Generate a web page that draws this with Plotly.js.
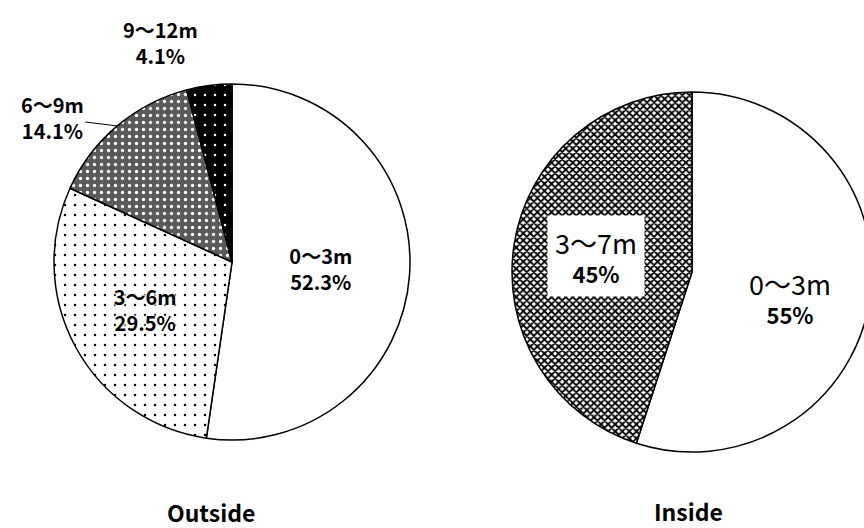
<!DOCTYPE html>
<html>
<head>
<meta charset="utf-8">
<script src="https://cdn.plot.ly/plotly-3.0.1.min.js"></script>
<style>
  html, body { margin: 0; padding: 0; overflow: hidden; background: #fff; }
  #chart { width: 880px; height: 528px; }
</style>
</head>
<body>
<div id="chart"></div>
<script>
// Share of items by distance band, outside and inside
const outsideLabels = ['0～3m', '3～6m', '6～9m', '9～12m'];
const outsideValues = [52.3, 29.5, 14.1, 4.1];
const insideLabels = ['0～3m', '3～7m'];
const insideValues = [55, 45];
const groupTitles = ['Outside', 'Inside'];

const FONT = '"Noto Sans CJK JP", "Noto Sans", sans-serif';
const W = 880, H = 528;
const line = { color: '#000', width: 1.5 };

// Pie geometry in pixels (centre x, centre y from top, radius)
const outsidePie = { cx: 232, cy: 262, r: 178 };
const insidePie = { cx: 692, cy: 272, r: 180 };
function domainOf(p) {
  return {
    x: [(p.cx - p.r) / W, (p.cx + p.r) / W],
    y: [(H - p.cy - p.r) / H, (H - p.cy + p.r) / H]
  };
}

const whiteHalo = '0 0 2px #fff, 0 0 3px #fff, 0 0 4px #fff, 0 0 5px #fff';

const outside = {
  type: 'pie',
  labels: outsideLabels,
  values: outsideValues,
  sort: false,
  direction: 'clockwise',
  rotation: 0,
  domain: domainOf(outsidePie),
  marker: {
    colors: ['#ffffff', '#ffffff', '#5a5a5a', '#000000'],
    line: line,
    pattern: {
      shape: ['', '.', '.', '.'],
      fillmode: 'replace',
      bgcolor: ['#ffffff', '#ffffff', '#5a5a5a', '#000000'],
      fgcolor: ['#000000', '#000000', '#ffffff', '#ffffff'],
      size: [8, 10, 7, 10],
      solidity: [0.1, 0.05, 0.18, 0.05]
    }
  },
  texttemplate: '<b>%{label}<br>%{value:.1f}%</b>',
  textposition: ['inside', 'inside', 'none', 'none'],
  insidetextorientation: 'horizontal',
  insidetextfont: { family: FONT, size: 20, color: '#000', shadow: whiteHalo },
  hoverinfo: 'none',
  showlegend: false
};

const inside = {
  type: 'pie',
  labels: insideLabels,
  values: insideValues,
  sort: false,
  direction: 'clockwise',
  rotation: 0,
  domain: domainOf(insidePie),
  marker: {
    colors: ['#ffffff', '#ffffff'],
    line: line,
    pattern: {
      shape: ['', 'x'],
      fillmode: 'replace',
      bgcolor: ['#ffffff', '#ffffff'],
      fgcolor: ['#000000', '#000000'],
      size: [8, 5],
      solidity: [0.1, 0.6]
    }
  },
  textinfo: 'none',
  hoverinfo: 'none',
  showlegend: false
};

const annotations = [];

// Small outside slices are labelled beside the pie; the 6～9m label gets a leader line
let cum = 0;
const total = outsideValues.reduce((a, b) => a + b, 0);
outsideValues.forEach((v, i) => {
  const mid = (cum + v / 2) / total * 2 * Math.PI;
  cum += v;
  if (i < 2) return;
  const px = outsidePie.cx + outsidePie.r * Math.sin(mid);
  const py = outsidePie.cy - outsidePie.r * Math.cos(mid);
  const text = '<b>' + outsideLabels[i] + '<br>' + v.toFixed(1) + '%</b>';
  if (i === 2) {
    annotations.push({
      xref: 'paper', yref: 'paper', x: px / W, y: (H - py) / H,
      showarrow: true, arrowhead: 0, arrowwidth: 1, arrowcolor: '#000',
      ax: -65, ay: -8, standoff: 0,
      text: text, font: { family: FONT, size: 20, color: '#000' }
    });
  } else {
    annotations.push({
      xref: 'paper', yref: 'paper', x: 160 / W, y: (H - 42) / H,
      xanchor: 'center', yanchor: 'middle', showarrow: false,
      text: text, font: { family: FONT, size: 20, color: '#000' }
    });
  }
});

// Labels of the inside pie; the 3～7m one sits in a white box
const insideAnnPos = [[790, 297], [596, 256]];
insideLabels.forEach((lab, i) => {
  annotations.push({
    xref: 'paper', yref: 'paper',
    x: insideAnnPos[i][0] / W, y: (H - insideAnnPos[i][1]) / H,
    xanchor: 'center', yanchor: 'middle',
    showarrow: false,
    text: '<span style="font-size:27px">' + lab + '</span><br><b>' + insideValues[i] + '%</b>',
    font: { family: FONT, size: 22, color: '#000' },
    bgcolor: i === 1 ? '#ffffff' : 'rgba(0,0,0,0)',
    borderpad: 7
  });
});

annotations.push(
  { xref: 'paper', yref: 'paper', x: 211 / W, y: (H - 512) / H, xanchor: 'center', yanchor: 'middle',
    showarrow: false, text: '<b>' + groupTitles[0] + '</b>',
    font: { family: FONT, size: 23, color: '#000' } },
  { xref: 'paper', yref: 'paper', x: 688 / W, y: 0, xanchor: 'center', yanchor: 'bottom',
    yshift: -2, showarrow: false, text: '<b>' + groupTitles[1] + '</b>',
    font: { family: FONT, size: 23, color: '#000' } }
);

Plotly.newPlot('chart', [outside, inside], {
  width: W,
  height: H,
  margin: { l: 0, r: 0, t: 0, b: 0 },
  paper_bgcolor: '#ffffff',
  plot_bgcolor: '#ffffff',
  annotations: annotations
}, { staticPlot: true });
</script>
</body>
</html>
